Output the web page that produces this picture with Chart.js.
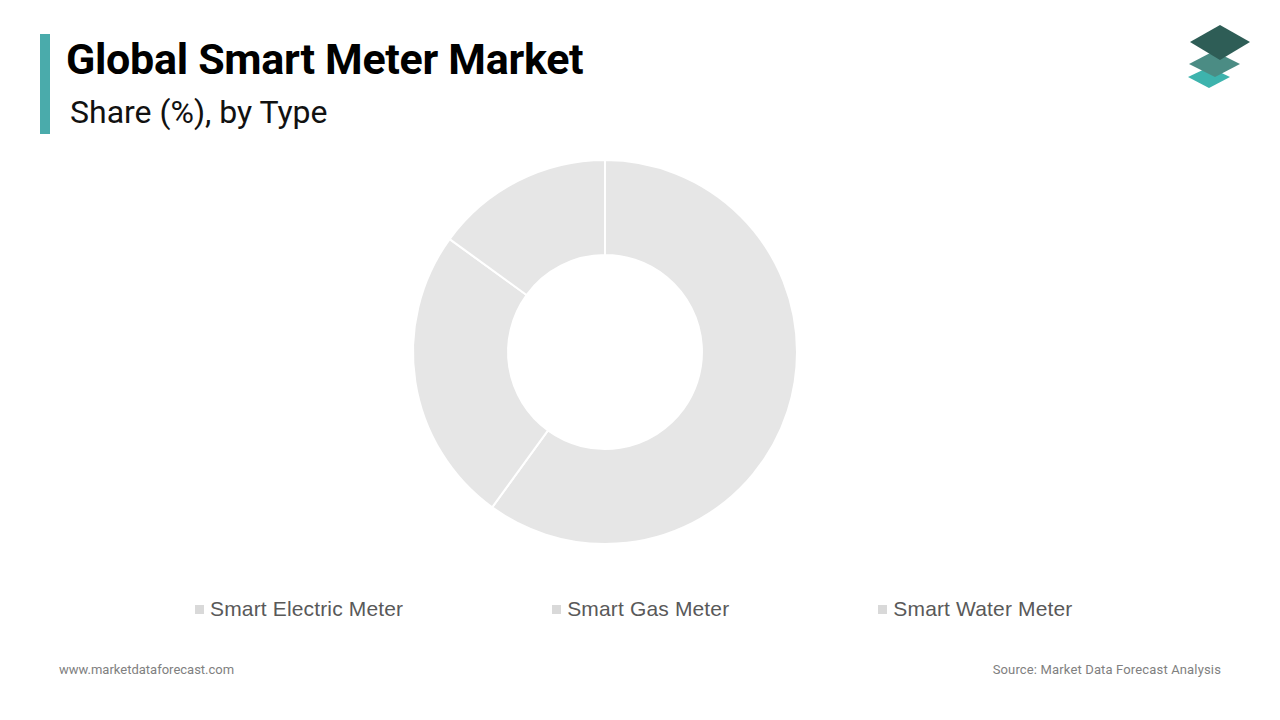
<!DOCTYPE html>
<html>
<head>
<meta charset="utf-8">
<script src="https://cdn.jsdelivr.net/npm/chart.js@4"></script>
<style>
  html, body { margin: 0; padding: 0; background: #ffffff; }
  body { width: 1280px; height: 720px; position: relative; overflow: hidden; font-family: Roboto, sans-serif; }
  #bar { position: absolute; left: 40px; top: 34px; width: 10px; height: 100px; background: #4aabab; }
  #title { position: absolute; left: 66px; top: 34px; font: bold 43px Roboto, sans-serif; color: #000; white-space: nowrap; letter-spacing: -0.3px; }
  #subtitle { position: absolute; left: 70px; top: 93px; font: 32px Roboto, sans-serif; color: #111; white-space: nowrap; }
  #chartBox { position: absolute; left: 0; top: 159px; width: 1210px; height: 386px; }
  #legend { position: absolute; left: 195px; top: 597px; display: flex; align-items: center; font: 21px "Liberation Sans", Arial, sans-serif; color: #595959; white-space: nowrap; letter-spacing: 0.15px; }
  .item { display: flex; align-items: center; margin-right: 149px; }
  .swatch { width: 9px; height: 9px; margin-right: 6px; }
  #site { position: absolute; left: 59px; top: 662px; font: 13px Roboto, sans-serif; color: #808080; }
  #source { position: absolute; right: 59px; top: 662px; font: 13px Roboto, sans-serif; color: #808080; letter-spacing: 0.15px; }
  #logo { position: absolute; left: 1185px; top: 22px; }
</style>
</head>
<body>
<div id="bar"></div>
<div id="title">Global Smart Meter Market</div>
<div id="subtitle">Share (%), by Type</div>
<svg id="logo" width="70" height="72" viewBox="0 0 70 72">
  <polygon points="3,55 24,45 45,55 24,66" fill="#3db3ad"/>
  <polygon points="4,42 29,29 55,42 30,55" fill="#4b8c84"/>
  <polygon points="5,20 35,3 65,20 35,38" fill="#2e5d56"/>
</svg>
<div id="chartBox"><canvas id="c"></canvas></div>
<div id="legend"></div>
<div id="site">www.marketdataforecast.com</div>
<div id="source">Source: Market Data Forecast Analysis</div>
<script>
const categories = ["Smart Electric Meter", "Smart Gas Meter", "Smart Water Meter"];
const shares = [60, 25, 15];
const sliceColors = ["#e6e6e6", "#e6e6e6", "#e6e6e6"];
const legendColors = ["#d9d9d9", "#d9d9d9", "#d9d9d9"];

new Chart(document.getElementById("c"), {
  type: "doughnut",
  data: {
    labels: categories,
    datasets: [{
      data: shares,
      backgroundColor: sliceColors,
      borderColor: "#ffffff",
      borderWidth: 2,
      hoverOffset: 0
    }]
  },
  options: {
    responsive: true,
    maintainAspectRatio: false,
    animation: false,
    cutout: "50.5%",
    layout: { padding: 0 },
    plugins: {
      legend: { display: false },
      tooltip: { enabled: false }
    }
  }
});

const legendEl = document.getElementById("legend");
categories.forEach((name, i) => {
  const item = document.createElement("div");
  item.className = "item";
  const sw = document.createElement("span");
  sw.className = "swatch";
  sw.style.background = legendColors[i];
  const tx = document.createElement("span");
  tx.textContent = name;
  item.appendChild(sw);
  item.appendChild(tx);
  legendEl.appendChild(item);
});
</script>
</body>
</html>
